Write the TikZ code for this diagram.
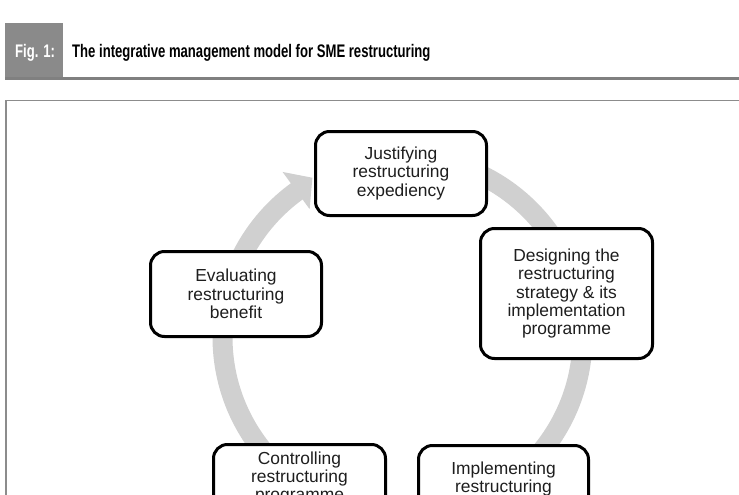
\documentclass[tikz,border=0pt]{standalone}
\usepackage{fontspec}
\setmainfont{Liberation Sans}
\newfontfamily\titlefont[FakeStretch=0.72]{Liberation Sans}
\definecolor{hdrgray}{HTML}{8A8A8A}
\definecolor{linegray}{HTML}{808080}
\definecolor{framegray}{HTML}{8C8C8C}
\definecolor{arcgray}{HTML}{D0D0D0}
\definecolor{txt}{HTML}{1E1E1E}
\tikzset{
  stage/.style={draw=black, line width=3pt, rounded corners=14pt, fill=white,
    align=center, inner sep=0pt, text=txt,
    font=\fontsize{17.4}{18.3}\selectfont},
  hdrtext/.style={anchor=base west, inner sep=0pt,
    font=\titlefont\bfseries\fontsize{18.2}{20}\selectfont}
}
\begin{document}
\begin{tikzpicture}[x=1pt,y=1pt]
\useasboundingbox (0,0) rectangle (739,-495);
\clip (0,0) rectangle (739,-495);
% header
\fill[hdrgray] (5,-23) rectangle (63,-80);
\draw[linegray, line width=3.5pt] (5,-78.5) -- (760,-78.5);
\node[hdrtext, text=white] (fig) at (15,-58) {Fig. 1:};
\node[hdrtext, text=black] (title) at (72,-58) {The integrative management model for SME restructuring};
% frame
\draw[framegray, line width=1.5pt] (6,-560) -- (6,-100.5) -- (770,-100.5);
% circular arrow
\coordinate (ctr) at (402.5,-337);
\draw[arcgray, line width=20pt] ([shift={(ctr)}]90:180) arc[start angle=90, end angle=-235, radius=180];
\fill[arcgray] ([shift={(ctr)}]126:204) -- ([shift={(ctr)}]119.5:183) -- ([shift={(ctr)}]126:158) -- cycle;
% stages
\node[stage, minimum width=171pt, minimum height=84pt] (J) at (401,-173.5)
  {Justifying\\restructuring\\expediency};
\node[stage, minimum width=172pt, minimum height=130pt] (D) at (566.5,-293.5)
  {Designing the\\restructuring\\strategy \& its\\implementation\\programme};
\node[stage, minimum width=171pt, minimum height=85pt] (E) at (236,-294)
  {Evaluating\\restructuring\\benefit};
\node[stage, minimum width=172pt, minimum height=85pt] (C) at (299.5,-487)
  {Controlling\\restructuring\\programme\\\phantom{programme}};
\node[stage, minimum width=170pt, minimum height=85pt] (I) at (503.5,-488)
  {Implementing\\restructuring\\\phantom{programme}};
\end{tikzpicture}
\end{document}
